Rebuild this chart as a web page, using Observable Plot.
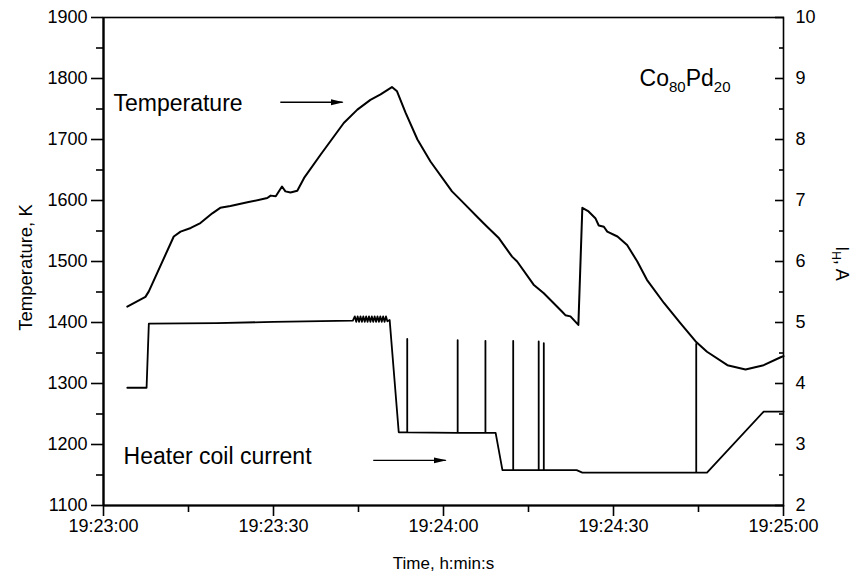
<!DOCTYPE html>
<html><head><meta charset="utf-8">
<script src="https://cdn.jsdelivr.net/npm/d3@7"></script>
<script src="https://cdn.jsdelivr.net/npm/@observablehq/plot@0.6"></script>
<style>html,body{margin:0;padding:0;background:#fff}svg{display:block}</style>
</head><body><div id="chart"></div>
<script>
// ---- data (time in seconds after 19:23:00) ----
const tempTime = [4.2, 7.4, 8.0, 12.4, 13.6, 15.4, 17.1, 19.2, 20.6, 22.4, 25.4, 28.9, 29.5, 30.4, 31.5, 32.1, 33.0, 34.2, 35.4, 38.3, 42.4, 44.8, 47.1, 48.9, 50.9, 51.8, 53.3, 55.4, 57.7, 61.5, 63.0, 66.5, 67.7, 69.8, 72.1, 73.0, 75.9, 77.7, 80.9, 81.5, 82.4, 83.8, 84.5, 85.6, 86.8, 87.4, 88.3, 88.9, 90.7, 92.4, 94.2, 95.9, 98.9, 101.8, 104.5, 106.5, 110.1, 113.3, 116.5, 119.5, 120];
const tempK = [1426, 1442, 1451, 1541, 1549, 1555, 1563, 1579, 1588, 1591, 1597, 1604, 1608, 1607, 1623, 1615, 1613, 1616, 1637, 1675, 1727, 1749, 1765, 1774, 1786, 1779, 1744, 1700, 1664, 1615, 1601, 1568, 1557, 1538, 1508, 1500, 1462, 1448, 1418, 1412, 1410, 1396, 1588, 1582, 1571, 1559, 1557, 1549, 1541, 1527, 1500, 1470, 1432, 1399, 1369, 1352, 1330, 1323, 1330, 1343, 1345];

const curTime = [4.2, 7.6, 8.0, 20, 30, 44.0,
  44.35, 44.6, 44.85, 45.1, 45.35, 45.6, 45.85, 46.1, 46.35, 46.6, 46.85, 47.1, 47.35, 47.6, 47.85, 48.1, 48.35, 48.6, 48.85, 49.1, 49.35, 49.6, 49.85, 50.1,
  50.5, 52.1, 53.6, 53.6, 53.6, 62.5, 62.5, 62.5, 67.4, 67.4, 67.4, 69.2, 70.4,
  72.3, 72.3, 72.3, 76.8, 76.8, 76.8, 77.7, 77.7, 77.7, 83.5, 84.5,
  104.6, 104.6, 104.6, 106.5, 116.5, 120];
const curA = [3.93, 3.93, 4.98, 4.99, 5.01, 5.03,
  5.10, 5.01, 5.10, 5.01, 5.10, 5.01, 5.10, 5.01, 5.10, 5.01, 5.10, 5.01, 5.10, 5.01, 5.10, 5.01, 5.10, 5.01, 5.10, 5.01, 5.10, 5.01, 5.10, 5.02,
  5.04, 3.20, 3.20, 4.73, 3.20, 3.19, 4.71, 3.19, 3.19, 4.70, 3.19, 3.19, 2.58,
  2.58, 4.70, 2.58, 2.58, 4.69, 2.58, 2.58, 4.66, 2.58, 2.58, 2.54,
  2.54, 4.65, 2.54, 2.54, 3.54, 3.54];

const xTicks = [0, 30, 60, 90, 120];
const xTickLabels = ["19:23:00", "19:23:30", "19:24:00", "19:24:30", "19:25:00"];
const xMinorTicks = [15, 45, 75, 105];
const yTicks = [1100, 1200, 1300, 1400, 1500, 1600, 1700, 1800, 1900];
const yTickLabels = ["1100", "1200", "1300", "1400", "1500", "1600", "1700", "1800", "1900"];
const yMinorTicks = [1150, 1250, 1350, 1450, 1550, 1650, 1750, 1850];
const aTickLabels = ["2", "3", "4", "5", "6", "7", "8", "9", "10"];

// annotations (time s, K)
const noteText = ["Temperature", "Heater coil current", "Co_{80}Pd_{20}"];
const noteTime = [1.76, 3.55, 94.6];
const noteK = [1759, 1180, 1800];
const arrowT1 = [31.2, 47.6];
const arrowT2 = [42.2, 60.4];
const arrowK = [1761, 1174];

// ---- build ----
const toK = a => 1100 + (a - 2) * 100;
const temp = tempTime.map((t, i) => ({t, K: tempK[i]}));
const cur = curTime.map((t, i) => ({t, K: toK(curA[i])}));
const notes = noteText.map((s, i) => ({s, t: noteTime[i], K: noteK[i]}));
const arrows = arrowT1.map((t1, i) => ({t1, t2: arrowT2[i], K: arrowK[i]}));
const fmt = (ticks, labels) => d => labels[ticks.indexOf(d)] ?? "";

const chart = Plot.plot({
  width: 857, height: 578,
  marginLeft: 103, marginRight: 74, marginTop: 17, marginBottom: 73,
  style: {fontFamily: "'Liberation Sans', Arial, sans-serif", fontSize: "18px", color: "black", background: "white"},
  x: {domain: [0, 120], axis: null},
  y: {domain: [1100, 1900], axis: null},
  marks: [
    Plot.axisX({ticks: xTicks, tickFormat: fmt(xTicks, xTickLabels), tickSize: 11, tickPadding: 3, strokeWidth: 1.6, label: null}),
    Plot.axisX({ticks: xMinorTicks, tickFormat: () => "", tickSize: 7, strokeWidth: 1.6, label: null}),
    Plot.axisY({anchor: "left", ticks: yTicks, tickFormat: fmt(yTicks, yTickLabels), tickSize: 12, tickPadding: 4, strokeWidth: 1.6, label: null}),
    Plot.axisY({anchor: "left", ticks: yMinorTicks, tickFormat: () => "", tickSize: 7, strokeWidth: 1.6, label: null}),
    Plot.axisY({anchor: "right", ticks: yTicks, tickFormat: fmt(yTicks, aTickLabels), tickSize: -9, tickPadding: 21, strokeWidth: 1.6, label: null}),
    Plot.axisY({anchor: "right", ticks: yMinorTicks, tickFormat: () => "", tickSize: -5, strokeWidth: 1.6, label: null}),
    Plot.frame({stroke: "black", strokeWidth: 1.6}),
    Plot.ruleX([0], {stroke: "black", strokeWidth: 2.2}),
    Plot.ruleY([1100], {stroke: "black", strokeWidth: 2.2}),
    Plot.line(temp, {x: "t", y: "K", stroke: "black", strokeWidth: 2}),
    Plot.line(cur, {x: "t", y: "K", stroke: "black", strokeWidth: 1.8}),
    Plot.text(notes, {x: "t", y: "K", text: "s", textAnchor: "start", lineAnchor: "middle", fontSize: 23, fill: "black"}),
    Plot.link(arrows, {x1: "t1", x2: "t2", y1: "K", y2: "K", stroke: "black", strokeWidth: 1.4}),
    Plot.text(["Temperature, K"], {frameAnchor: "left", textAnchor: "middle", lineAnchor: "middle", dx: -77, dy: 6, rotate: -90, fontSize: 18.5, fill: "black"}),
    Plot.text(["Time, h:min:s"], {frameAnchor: "bottom", textAnchor: "middle", lineAnchor: "middle", dy: 58, fontSize: 17, fill: "black"}),
    Plot.text(["I_{H}, A"], {frameAnchor: "right", textAnchor: "middle", lineAnchor: "middle", dx: 58, dy: 2, rotate: 90, fontSize: 18, fill: "black"})
  ]
});

// subscripts
const NS = "http://www.w3.org/2000/svg";
chart.querySelectorAll("text").forEach(t => {
  const s = t.textContent;
  if (!s.includes("_{")) return;
  const fs = parseFloat(t.getAttribute("font-size") || t.parentNode.getAttribute("font-size")) || 18;
  const shift = Math.round(fs * 0.24);
  while (t.firstChild) t.removeChild(t.firstChild);
  let down = false;
  for (const p of s.split(/(_\{[^}]*\})/)) {
    if (!p) continue;
    const ts = document.createElementNS(NS, "tspan");
    if (p.startsWith("_{")) {
      ts.textContent = p.slice(2, -1);
      ts.setAttribute("font-size", Math.round(fs * 0.64));
      ts.setAttribute("dy", shift);
      down = true;
    } else {
      ts.textContent = p;
      if (down) ts.setAttribute("dy", -shift);
      down = false;
    }
    t.appendChild(ts);
  }
});

// filled arrowheads on the annotation arrows
const defs = document.createElementNS(NS, "defs");
defs.innerHTML = '<marker id="ahead" markerUnits="userSpaceOnUse" markerWidth="13" markerHeight="7" refX="12" refY="3.5" orient="auto"><path d="M0,0.5L13,3.5L0,6.5z" fill="black"/></marker>';
chart.insertBefore(defs, chart.firstChild);
chart.querySelectorAll('g[aria-label="link"] path').forEach(p => p.setAttribute("marker-end", "url(#ahead)"));

document.getElementById("chart").appendChild(chart);
</script>
</body></html>
